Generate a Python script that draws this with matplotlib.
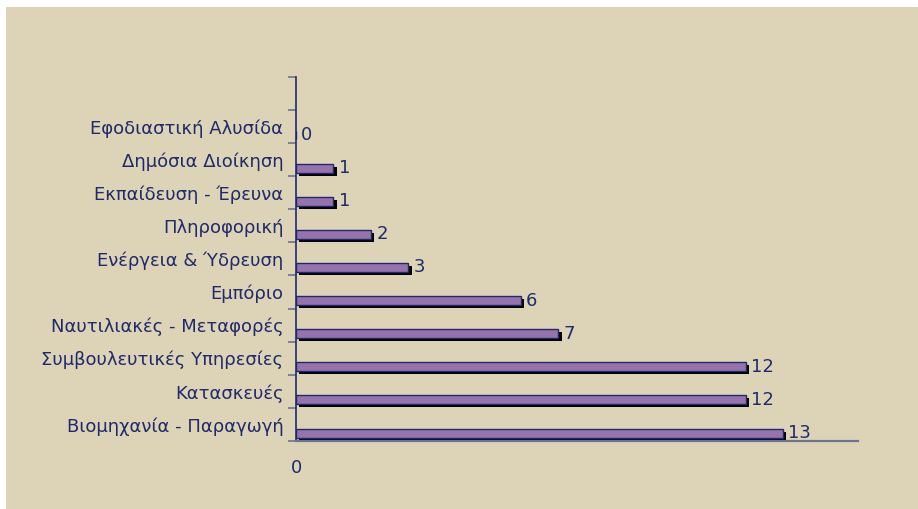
import matplotlib
matplotlib.use("Agg")
import matplotlib.pyplot as plt
from matplotlib.patches import Rectangle
import numpy as np

categories = ["Βιομηχανία - Παραγωγή", "Κατασκευές", "Συμβουλευτικές Υπηρεσίες",
              "Ναυτιλιακές - Μεταφορές", "Εμπόριο", "Ενέργεια & Ύδρευση",
              "Πληροφορική", "Εκπαίδευση - Έρευνα", "Δημόσια Διοίκηση",
              "Εφοδιαστική Αλυσίδα"]
values = [13, 12, 12, 7, 6, 3, 2, 1, 1, 0]

BG = "#ddd3b7"
NAVY = "#1f2a6b"
BAR = "#9673ad"

W, H = 918, 509
fig = plt.figure(figsize=(W / 100, H / 100), dpi=100)
fig.patch.set_facecolor("white")
fig.patches.append(Rectangle((6 / W, 0), 1 - 6 / W, (H - 7) / H,
                             transform=fig.transFigure, facecolor=BG,
                             edgecolor="none", zorder=-10))

ax = fig.add_axes([296 / W, (H - 441) / H, (858 - 296) / W, (441 - 76.7) / H])
ax.set_facecolor("none")

n_slots = len(categories) + 1
pos = np.arange(len(categories))
off = -0.26
bh = 0.27

# shadow
sx, sy = 0.09, -0.09
ax.barh(pos + off + sy, values, height=bh, left=sx, color="black",
        edgecolor="none", zorder=2)
ax.barh(pos + off, values, height=bh, color=BAR, edgecolor=NAVY,
        linewidth=1.0, zorder=3)

for p, v in zip(pos, values):
    ax.text(v + 0.14, p + off, str(v), va="center", ha="left",
            fontsize=13, color=NAVY, zorder=4)

ax.set_xlim(0, 15)
ax.set_ylim(-0.5, n_slots - 0.5)

ax.set_yticks(pos)
ax.set_yticklabels(categories, fontsize=13, color=NAVY)
ax.tick_params(axis="y", which="major", length=0, pad=9)
ax.set_yticks(np.arange(-0.5, n_slots, 1.0), minor=True)
ax.tick_params(axis="y", which="minor", length=6, width=1.2, color="#6b7390")

ax.set_xticks([0])
ax.set_xticklabels(["0"], fontsize=13, color=NAVY)
ax.tick_params(axis="x", length=0, pad=13)

for s in ["top", "right"]:
    ax.spines[s].set_visible(False)
ax.spines["left"].set_color(NAVY)
ax.spines["left"].set_linewidth(1.2)
ax.spines["bottom"].set_color("#6b7390")
ax.spines["bottom"].set_linewidth(1.6)

fig.savefig("out.png", dpi=100, facecolor=fig.get_facecolor())
